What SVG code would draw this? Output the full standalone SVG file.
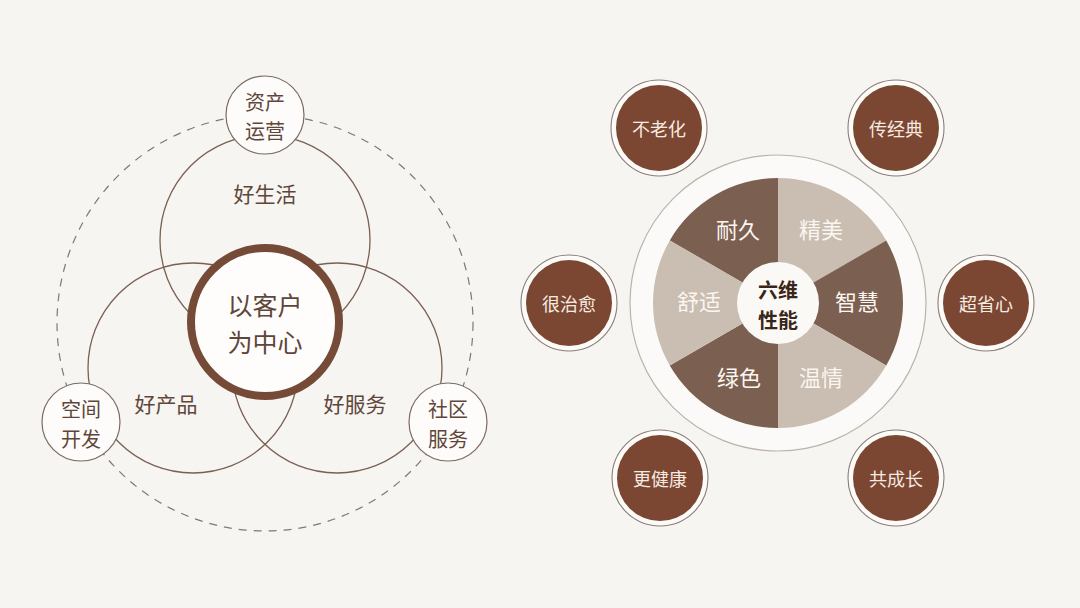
<svg xmlns="http://www.w3.org/2000/svg" width="1080" height="608" viewBox="0 0 1080 608">
<style>
text{font-family:"Noto Sans CJK SC","Noto Sans CJK JP",sans-serif;text-anchor:middle;dominant-baseline:central}
.lt{fill:#5f463a;font-size:21px}
.sm{fill:#5f463a;font-size:20px}
.big{fill:#5f463a;font-size:25px}
.ring{fill:none;stroke:#7a5f52;stroke-width:1.3}
.node{fill:#fdfcfa;stroke:#7a6a62;stroke-width:1.2}
.wt{fill:#fbf6f0;font-size:22px}
.ct{fill:#3a2619;font-size:20px;font-weight:700}
.sat-o{fill:#fdfbf8;stroke:#8a7d78;stroke-width:1.1}
.sat-i{fill:#7b4733}
.st{fill:#f7ebe0;font-size:18px}
.dk{fill:#7b5f51}
.lg{fill:#cabdb1}
</style>
<rect width="1080" height="608" fill="#f7f5f2"/>

<g id="connectors">
  <circle cx="265" cy="323" r="208" fill="none" stroke="#7f7874" stroke-width="1.2" stroke-dasharray="8 7"/>
  <circle class="ring" cx="265" cy="240" r="105"/>
  <circle class="ring" cx="193" cy="368" r="105"/>
  <circle class="ring" cx="337" cy="368" r="105"/>
</g>

<g id="label-good-life"><text class="lt" x="265" y="193">好生活</text></g>
<g id="label-good-product"><text class="lt" x="166" y="403">好产品</text></g>
<g id="label-good-service"><text class="lt" x="355" y="403">好服务</text></g>

<g id="center-customer">
  <circle cx="265" cy="322" r="74" fill="#fefdfb" stroke="#754b38" stroke-width="8"/>
  <text class="big" x="265" y="304"><tspan x="265">以客户</tspan><tspan x="265" dy="37">为中心</tspan></text>
</g>

<g id="node-asset">
  <circle class="node" cx="265" cy="115" r="39"/>
  <text class="sm" x="265" y="100.5"><tspan x="265">资产</tspan><tspan x="265" dy="29.5">运营</tspan></text>
</g>
<g id="node-space">
  <circle class="node" cx="81" cy="422" r="39"/>
  <text class="sm" x="81" y="408"><tspan x="81">空间</tspan><tspan x="81" dy="29.5">开发</tspan></text>
</g>
<g id="node-community">
  <circle class="node" cx="448" cy="422" r="39"/>
  <text class="sm" x="448" y="408"><tspan x="448">社区</tspan><tspan x="448" dy="29.5">服务</tspan></text>
</g>

<g id="wheel">
  <circle cx="778" cy="303" r="148" fill="#fbfaf8" stroke="#bdb2aa" stroke-width="1.2"/>
  <path class="dk" d="M778,303 L778,178 A125,125 0 0 0 669.75,240.5 Z"/>
  <path class="lg" d="M778,303 L886.25,240.5 A125,125 0 0 0 778,178 Z"/>
  <path class="dk" d="M778,303 L886.25,365.5 A125,125 0 0 0 886.25,240.5 Z"/>
  <path class="lg" d="M778,303 L778,428 A125,125 0 0 0 886.25,365.5 Z"/>
  <path class="dk" d="M778,303 L669.75,365.5 A125,125 0 0 0 778,428 Z"/>
  <path class="lg" d="M778,303 L669.75,240.5 A125,125 0 0 0 669.75,365.5 Z"/>
  <text class="wt" x="738" y="228">耐久</text>
  <text class="wt" x="821" y="228">精美</text>
  <text class="wt" x="857" y="300">智慧</text>
  <text class="wt" x="821" y="376">温情</text>
  <text class="wt" x="739" y="376">绿色</text>
  <text class="wt" x="699" y="300">舒适</text>
</g>
<g id="center-six">
  <circle cx="778" cy="303" r="41" fill="#fbf9f6"/>
  <text class="ct" x="778" y="289"><tspan x="778">六维</tspan><tspan x="778" dy="29.5">性能</tspan></text>
</g>

<g id="sat-bulaohua">
  <circle class="sat-o" cx="659" cy="128" r="48"/>
  <circle class="sat-i" cx="659" cy="128" r="43"/>
  <text class="st" x="659" y="128">不老化</text>
</g>
<g id="sat-chuanjingdian">
  <circle class="sat-o" cx="896" cy="128" r="48"/>
  <circle class="sat-i" cx="896" cy="128" r="43"/>
  <text class="st" x="896" y="128">传经典</text>
</g>
<g id="sat-henzhiyu">
  <circle class="sat-o" cx="569" cy="303" r="48"/>
  <circle class="sat-i" cx="569" cy="303" r="43"/>
  <text class="st" x="569" y="303">很治愈</text>
</g>
<g id="sat-chaoshengxin">
  <circle class="sat-o" cx="986" cy="303" r="48"/>
  <circle class="sat-i" cx="986" cy="303" r="43"/>
  <text class="st" x="986" y="303">超省心</text>
</g>
<g id="sat-gengjiankang">
  <circle class="sat-o" cx="660" cy="478" r="48"/>
  <circle class="sat-i" cx="660" cy="478" r="43"/>
  <text class="st" x="660" y="478">更健康</text>
</g>
<g id="sat-gongchengzhang">
  <circle class="sat-o" cx="896" cy="478" r="48"/>
  <circle class="sat-i" cx="896" cy="478" r="43"/>
  <text class="st" x="896" y="478">共成长</text>
</g>
</svg>
